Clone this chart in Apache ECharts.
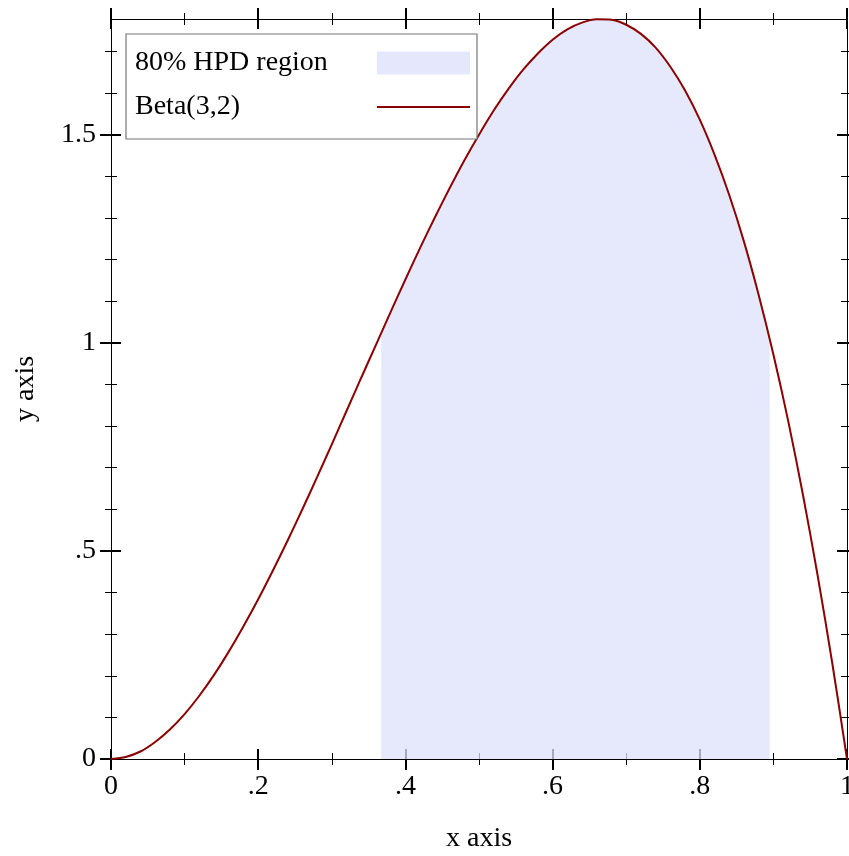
<!DOCTYPE html>
<html>
<head>
<meta charset="utf-8">
<script src="https://cdn.jsdelivr.net/npm/echarts@6/dist/echarts.min.js"></script>
<style>
html,body{margin:0;padding:0;background:#fff;}
#c{width:849px;height:856px;}
</style>
</head>
<body>
<div id="c"></div>
<script>
// ---- data ----
const curveX = [0,0.02,0.04,0.06,0.08,0.10,0.12,0.14,0.16,0.18,0.20,0.22,0.24,0.26,0.28,0.30,0.32,0.34,0.36,0.38,0.40,0.42,0.44,0.46,0.48,0.50,0.52,0.54,0.56,0.58,0.60,0.62,0.64,0.66,0.68,0.70,0.72,0.74,0.76,0.78,0.80,0.82,0.84,0.86,0.88,0.90,0.92,0.94,0.96,0.98,1.00];
const curveY = [0,0.005,0.018,0.041,0.071,0.108,0.152,0.202,0.258,0.319,0.384,0.453,0.525,0.600,0.677,0.756,0.836,0.916,0.995,1.074,1.152,1.228,1.301,1.371,1.438,1.500,1.558,1.610,1.656,1.695,1.728,1.753,1.769,1.777,1.776,1.764,1.742,1.709,1.663,1.606,1.536,1.452,1.355,1.243,1.115,0.972,0.813,0.636,0.442,0.230,0];
const hpdX = [0.367,0.38,0.40,0.42,0.44,0.46,0.48,0.50,0.52,0.54,0.56,0.58,0.60,0.62,0.64,0.66,0.68,0.70,0.72,0.74,0.76,0.78,0.80,0.82,0.84,0.86,0.88,0.895];
const hpdY = [1.023,1.074,1.152,1.228,1.301,1.371,1.438,1.500,1.558,1.610,1.656,1.695,1.728,1.753,1.769,1.777,1.776,1.764,1.742,1.709,1.663,1.606,1.536,1.452,1.355,1.243,1.115,1.009];
const seriesNames = ['80% HPD region', 'Beta(3,2)'];
const xMajor = [0,0.2,0.4,0.6,0.8,1];
const xMajorLabels = ['0','.2','.4','.6','.8','1'];
const xMinor = [0.1,0.3,0.5,0.7,0.9];
const yMajor = [0,0.5,1,1.5];
const yMajorLabels = ['0','.5','1','1.5'];
const yMinor = [0.1,0.2,0.3,0.4,0.6,0.7,0.8,0.9,1.1,1.2,1.3,1.4,1.6,1.7];
const xRange = [0, 1];
const yRange = [0, 1.7778];
const axisTitles = ['x axis', 'y axis'];

// ---- styling ----
const FONT = 'Liberation Serif';
const FS = 28;
const lbl = (vals, labels) => v => {
  for (let i = 0; i < vals.length; i++) if (Math.abs(vals[i] - v) < 1e-6) return labels[i];
  return '';
};

function mkAxis(dim, position, inside, vals, len, width, opts) {
  opts = opts || {};
  const r = dim === 'x' ? xRange : yRange;
  return Object.assign({
    type: 'value', position: position, min: r[0], max: r[1],
    axisLine: {show: !!opts.line, onZero: false, lineStyle: {color: '#000', width: 1}},
    axisTick: {show: true, inside: inside, length: len, customValues: vals,
               lineStyle: {color: '#000', width: width}},
    minorTick: {show: false},
    splitLine: {show: false},
    axisLabel: {show: false}
  }, opts.extra || {});
}

const xAxes = [
  mkAxis('x','bottom',false,xMajor,11,2,{line:true, extra:{
    axisLabel: {show:true, customValues:xMajor, formatter:lbl(xMajor,xMajorLabels), margin:14,
                color:'#000', fontFamily:FONT, fontSize:FS},
    name: axisTitles[0], nameLocation:'middle', nameGap:66,
    nameTextStyle:{color:'#000', fontFamily:FONT, fontSize:FS}
  }}),
  mkAxis('x','bottom',true,xMajor,10,2),
  mkAxis('x','bottom',false,xMinor,6,1),
  mkAxis('x','bottom',true,xMinor,6,1),
  mkAxis('x','top',false,xMajor,11,2,{line:true}),
  mkAxis('x','top',true,xMajor,10,2),
  mkAxis('x','top',false,xMinor,6,1),
  mkAxis('x','top',true,xMinor,6,1)
];
const yAxes = [
  mkAxis('y','left',false,yMajor,11,2,{line:true, extra:{
    axisLabel: {show:true, customValues:yMajor, formatter:lbl(yMajor,yMajorLabels), margin:15,
                color:'#000', fontFamily:FONT, fontSize:FS},
    name: axisTitles[1], nameLocation:'middle', nameGap:71,
    nameTextStyle:{color:'#000', fontFamily:FONT, fontSize:FS}
  }}),
  mkAxis('y','left',true,yMajor,10,2),
  mkAxis('y','left',false,yMinor,6,1),
  mkAxis('y','left',true,yMinor,6,1),
  mkAxis('y','right',false,yMajor,11,2,{line:true}),
  mkAxis('y','right',true,yMajor,10,2),
  mkAxis('y','right',false,yMinor,6,1),
  mkAxis('y','right',true,yMinor,6,1)
];

const chart = echarts.init(document.getElementById('c'), null, {renderer: 'canvas'});
chart.setOption({
  animation: false,
  backgroundColor: '#fff',
  grid: {left: 111, right: 2, top: 19, bottom: 97, containLabel: false, outerBoundsMode: 'none'},
  xAxis: xAxes,
  yAxis: yAxes,
  legend: {
    orient: 'vertical', left: 126, top: 34,
    align: 'right',
    padding: [15, 7, 18, 9],
    itemGap: 16, itemWidth: 93, itemHeight: 23,
    symbolKeepAspect: true,
    backgroundColor: '#fff', borderColor: '#777', borderWidth: 1.2, borderRadius: 0,
    selectedMode: false,
    formatter: '{a|{name}}',
    textStyle: {color: '#000', fontFamily: FONT, fontSize: FS,
      rich: {a: {width: 237, align: 'left', color: '#000', fontFamily: FONT, fontSize: FS}}},
    data: [
      {name: seriesNames[0], icon: 'rect', itemStyle: {color: '#e5e8fc', borderWidth: 0}},
      {name: seriesNames[1], icon: 'path://M0,0L100,0L100,2.2L0,2.2Z', itemStyle: {color: '#8b0000', borderWidth: 0}}
    ]
  },
  series: [
    {
      name: seriesNames[0], type: 'line',
      data: hpdX.map((x, i) => [x, hpdY[i]]),
      symbol: 'none', showSymbol: false,
      smooth: 0.3,
      lineStyle: {width: 0, color: 'rgba(221,225,251,0.75)'},
      itemStyle: {color: 'rgba(221,225,251,0.75)'},
      areaStyle: {color: 'rgba(221,225,251,0.75)', opacity: 1},
      z: 2
    },
    {
      name: seriesNames[1], type: 'line',
      data: curveX.map((x, i) => [x, curveY[i]]),
      symbol: 'none', showSymbol: false,
      smooth: 0.3,
      lineStyle: {width: 2, color: '#8b0000'},
      itemStyle: {color: '#8b0000'},
      z: 3
    }
  ]
});
</script>
</body>
</html>
